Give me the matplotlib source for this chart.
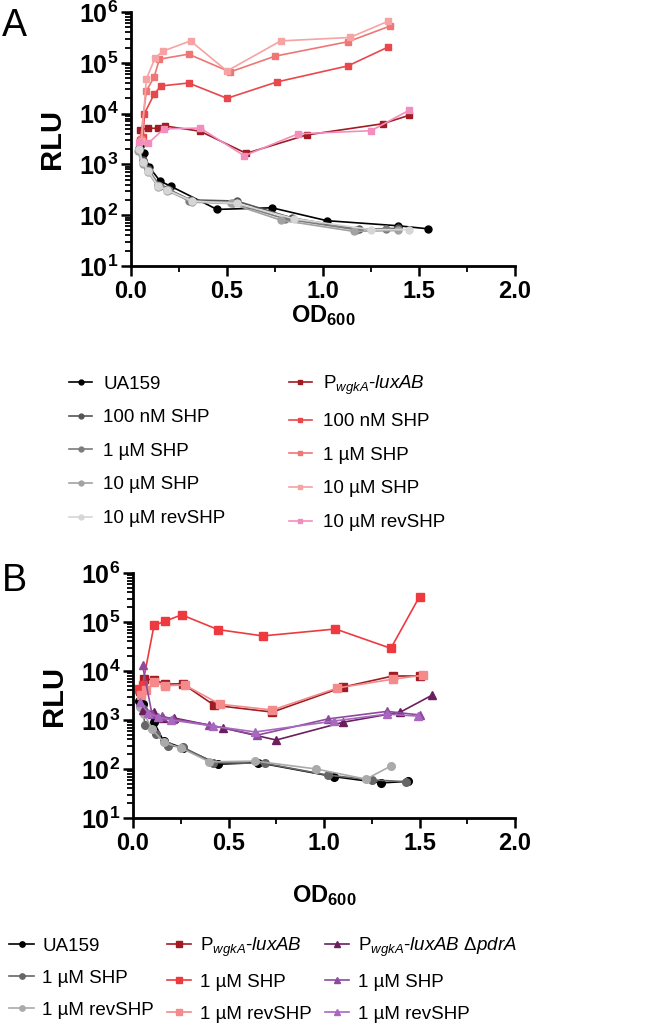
import math

import matplotlib
matplotlib.use("Agg")
import matplotlib.pyplot as plt
import matplotlib.ticker as mticker

plt.rcParams["font.family"] = ["Liberation Sans", "DejaVu Sans"]
plt.rcParams["mathtext.fontset"] = "custom"
plt.rcParams["mathtext.rm"] = "Liberation Sans"
plt.rcParams["mathtext.it"] = "Liberation Sans:italic"
plt.rcParams["mathtext.bf"] = "Liberation Sans:bold"

# ---------------------------------------------------------------------------
# Panel A data (OD600, RLU)
# ---------------------------------------------------------------------------
a_ua159_x = [0.047, 0.068, 0.094, 0.151, 0.208, 0.448, 0.734, 1.02, 1.39, 1.547]
a_ua159_y = [2300, 1650, 900, 470, 370, 130, 140, 78, 62, 54]
a_shp100_x = [0.04, 0.06, 0.09, 0.14, 0.19, 0.31, 0.55, 0.84, 1.19, 1.39]
a_shp100_y = [2100, 1200, 800, 400, 330, 200, 190, 88, 53, 55]
a_shp1_x = [0.04, 0.065, 0.095, 0.15, 0.20, 0.30, 0.53, 0.80, 1.17, 1.33]
a_shp1_y = [1900, 1100, 750, 380, 320, 190, 175, 85, 52, 53]
a_shp10_x = [0.035, 0.06, 0.09, 0.14, 0.19, 0.32, 0.52, 0.78, 1.16, 1.39]
a_shp10_y = [1800, 1000, 700, 360, 300, 180, 170, 80, 48, 50]
a_rev10_x = [0.04, 0.06, 0.09, 0.14, 0.19, 0.32, 0.55, 0.85, 1.25, 1.45]
a_rev10_y = [2000, 1100, 750, 380, 310, 190, 170, 85, 52, 52]

a_lux_x = [0.047, 0.089, 0.14, 0.177, 0.36, 0.60, 0.915, 1.31, 1.45]
a_lux_y = [4800, 5200, 5100, 5700, 4500, 1650, 3800, 6300, 9300]
a_lux100_x = [0.045, 0.063, 0.07, 0.12, 0.156, 0.30, 0.50, 0.76, 1.13, 1.34]
a_lux100_y = [3000, 3500, 10000, 24000, 35000, 40000, 20000, 42000, 87000, 205000]
a_lux1_x = [0.05, 0.08, 0.12, 0.148, 0.30, 0.516, 0.75, 1.13, 1.35]
a_lux1_y = [3200, 28000, 52000, 118000, 148000, 66000, 135000, 260000, 530000]
a_lux10_x = [0.055, 0.08, 0.125, 0.167, 0.31, 0.50, 0.78, 1.14, 1.34]
a_lux10_y = [2900, 48000, 124000, 170000, 270000, 69000, 270000, 315000, 660000]
a_luxrev_x = [0.04, 0.09, 0.17, 0.36, 0.59, 0.87, 1.25, 1.45]
a_luxrev_y = [2700, 2600, 5000, 5200, 1480, 4000, 4600, 11700]

# ---------------------------------------------------------------------------
# Panel B data
# ---------------------------------------------------------------------------
b_ua159_x = [0.03, 0.05, 0.11, 0.16, 0.26, 0.445, 0.655, 1.05, 1.30, 1.44]
b_ua159_y = [2400, 2100, 900, 370, 270, 125, 135, 70, 52, 56]
b_shp_x = [0.05, 0.063, 0.12, 0.185, 0.26, 0.42, 0.69, 1.02, 1.25, 1.43]
b_shp_y = [1700, 800, 520, 300, 280, 135, 130, 75, 60, 55]
b_rev_x = [0.035, 0.06, 0.10, 0.16, 0.25, 0.40, 0.64, 0.96, 1.22, 1.35]
b_rev_y = [1800, 1300, 650, 350, 270, 140, 145, 100, 62, 115]

b_lux_x = [0.037, 0.058, 0.11, 0.17, 0.26, 0.425, 0.73, 1.10, 1.36, 1.50]
b_lux_y = [3900, 6900, 6600, 5400, 5500, 2000, 1450, 4700, 7900, 7900]
b_luxshp_x = [0.03, 0.05, 0.11, 0.17, 0.255, 0.445, 0.68, 1.06, 1.35, 1.50]
b_luxshp_y = [4200, 5200, 85000, 105000, 140000, 70000, 52000, 72000, 29000, 330000]
b_luxrev_x = [0.04, 0.07, 0.11, 0.17, 0.27, 0.455, 0.73, 1.07, 1.36, 1.52]
b_luxrev_y = [3300, 4000, 6000, 5000, 5200, 2100, 1600, 4500, 6800, 8200]

b_pdr_x = [0.05, 0.11, 0.157, 0.215, 0.47, 0.75, 1.10, 1.40, 1.565]
b_pdr_y = [1600, 1450, 1100, 1100, 690, 390, 900, 1450, 3200]
b_pdrshp_x = [0.05, 0.10, 0.15, 0.21, 0.40, 0.65, 1.02, 1.33, 1.50]
b_pdrshp_y = [13000, 1300, 1200, 1050, 790, 490, 1050, 1500, 1270]
b_pdrrev_x = [0.035, 0.08, 0.13, 0.20, 0.42, 0.64, 1.05, 1.33, 1.49]
b_pdrrev_y = [2300, 1400, 1150, 1000, 750, 570, 950, 1320, 1200]

LUX = r"P$_{wgkA}$-$luxAB$"
PDR = r"P$_{wgkA}$-$luxAB$ Δ$pdrA$"

# (x, y, label, color, marker)
series_a = [
    (a_ua159_x, a_ua159_y, "UA159", "#000000", "o"),
    (a_shp100_x, a_shp100_y, "100 nM SHP", "#555555", "o"),
    (a_shp1_x, a_shp1_y, "1 µM SHP", "#7c7c7c", "o"),
    (a_shp10_x, a_shp10_y, "10 µM SHP", "#a2a2a2", "o"),
    (a_rev10_x, a_rev10_y, "10 µM revSHP", "#d6d6d6", "o"),
    (a_lux_x, a_lux_y, LUX, "#a01c22", "s"),
    (a_lux100_x, a_lux100_y, "100 nM SHP", "#e8474c", "s"),
    (a_lux1_x, a_lux1_y, "1 µM SHP", "#f07575", "s"),
    (a_lux10_x, a_lux10_y, "10 µM SHP", "#f5a3a3", "s"),
    (a_luxrev_x, a_luxrev_y, "10 µM revSHP", "#f28dbd", "s"),
]
series_b = [
    (b_ua159_x, b_ua159_y, "UA159", "#000000", "o"),
    (b_shp_x, b_shp_y, "1 µM SHP", "#666666", "o"),
    (b_rev_x, b_rev_y, "1 µM revSHP", "#aaaaaa", "o"),
    (b_lux_x, b_lux_y, LUX, "#a01c22", "s"),
    (b_luxshp_x, b_luxshp_y, "1 µM SHP", "#ee3a3f", "s"),
    (b_luxrev_x, b_luxrev_y, "1 µM revSHP", "#f48a8a", "s"),
    (b_pdr_x, b_pdr_y, PDR, "#6b1f5f", "^"),
    (b_pdrshp_x, b_pdrshp_y, "1 µM SHP", "#8e4a9e", "^"),
    (b_pdrrev_x, b_pdrrev_y, "1 µM revSHP", "#a868c0", "^"),
]


def style_axis(ax, xlabelpad):
    ax.set_yscale("log")
    ax.set_ylim(10, 1e6)
    ax.set_xlim(0, 2.0)
    for s in ("top", "right"):
        ax.spines[s].set_visible(False)
    for s in ("left", "bottom"):
        ax.spines[s].set_linewidth(2.0)
    ax.xaxis.set_major_locator(mticker.MultipleLocator(0.5))
    ax.xaxis.set_minor_locator(mticker.MultipleLocator(0.25))
    ax.xaxis.set_major_formatter(mticker.FormatStrFormatter("%.1f"))
    ax.yaxis.set_major_locator(mticker.LogLocator(base=10, numticks=10))
    ax.yaxis.set_minor_locator(mticker.LogLocator(base=10, subs=range(2, 10), numticks=10))
    ax.yaxis.set_minor_formatter(mticker.NullFormatter())
    ax.yaxis.set_major_formatter(
        mticker.FuncFormatter(lambda v, _: r"$\mathbf{10^{%d}}$" % round(math.log10(v))))
    ax.tick_params(which="major", length=7, width=1.8, pad=3)
    ax.tick_params(axis="y", which="major", labelsize=18, pad=2)
    ax.tick_params(axis="x", which="major", labelsize=17)
    ax.tick_params(which="minor", length=4, width=1.3)
    for lab in ax.get_xticklabels():
        lab.set_fontweight("bold")
    ax.set_ylabel("RLU", fontsize=21, fontweight="bold", labelpad=9)
    ax.set_xlabel(r"$\mathbf{OD_{600}}$", fontsize=17, labelpad=xlabelpad)


fig = plt.figure(figsize=(6.66, 10.33), dpi=100)
ax_a = fig.add_axes([131 / 666, 1 - 266 / 1033, 384 / 666, 254 / 1033])
ax_b = fig.add_axes([133 / 666, 1 - 818 / 1033, 382 / 666, 245 / 1033])

handles_a = []
for x, y, lab, col, mk in series_a:
    h, = ax_a.plot(x, y, color=col, marker=mk, ms=5, lw=1.2, label=lab, clip_on=False)
    handles_a.append(h)
handles_b = []
for x, y, lab, col, mk in series_b:
    h, = ax_b.plot(x, y, color=col, marker=mk, ms=5.5 if mk != "^" else 6, lw=1.2,
                   label=lab, clip_on=False)
    handles_b.append(h)

style_axis(ax_a, 0)
style_axis(ax_b, 20)

fig.text(0.003, 0.992, "A", fontsize=27, va="top", ha="left")
fig.text(0.003, 0.455, "B", fontsize=27, va="top", ha="left")

leg_a = fig.legend(handles=handles_a, ncol=2, loc="upper left",
                   bbox_to_anchor=(60 / 666, 1 - 364 / 1033), frameon=False,
                   fontsize=13.5, handlelength=1.2, handletextpad=0.6,
                   columnspacing=3.4, labelspacing=0.88, borderpad=0, markerscale=0.7)
leg_b = fig.legend(handles=handles_b, ncol=3, loc="upper left",
                   bbox_to_anchor=(0, 1 - 926 / 1033), frameon=False,
                   fontsize=13.5, handlelength=1.3, handletextpad=0.45,
                   columnspacing=0.7, labelspacing=0.8, borderpad=0, markerscale=0.7)

fig.savefig("out.png", dpi=100)
